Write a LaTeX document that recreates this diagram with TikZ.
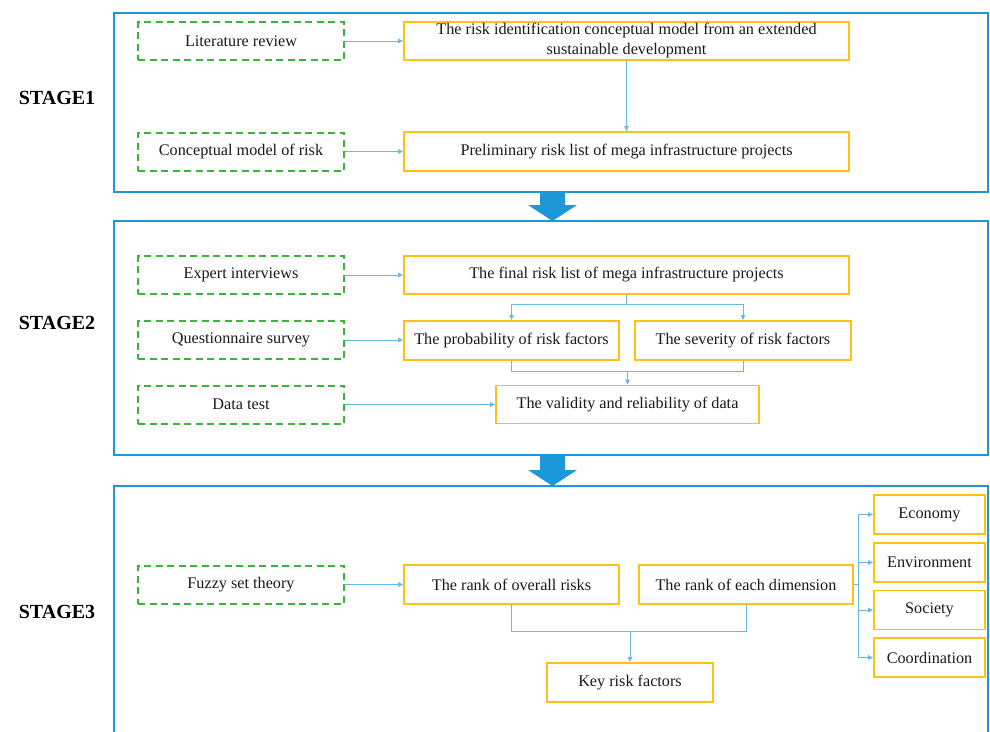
\documentclass[tikz,border=0pt]{standalone}
\usepackage{fontspec}
\setmainfont{Liberation Serif}
\usetikzlibrary{arrows.meta}
\definecolor{frameblue}{RGB}{28,152,216}
\definecolor{boxorange}{RGB}{255,194,20}
\definecolor{dashgreen}{RGB}{60,180,60}
\definecolor{linkblue}{RGB}{105,185,232}
\tikzset{
  stageframe/.style={draw=frameblue, line width=2pt},
  boxtext/.style={font=\fontsize{16.2}{20}\selectfont, text=black!90},
  methodbox/.style={boxtext, draw=dashgreen, line width=2pt, dash pattern=on 7pt off 4.5pt, minimum width=206pt, minimum height=38pt, inner sep=0pt},
  resultbox/.style={boxtext, draw=boxorange, line width=1.9pt, inner sep=0pt, align=center},
  linkline/.style={draw=linkblue, line width=0.8pt},
  link/.style={linkline, -{Triangle[length=5pt,width=4.5pt]}},
  stagelabel/.style={font=\fontsize{20}{24}\selectfont\bfseries},
  bigarrow/.style={fill=frameblue, draw=none}
}
\begin{document}
\begin{tikzpicture}[x=1pt,y=-1pt]
\useasboundingbox (0,0) rectangle (990,731);

% stage frames
\draw[stageframe] (114,13) rectangle (988,192);
\draw[stageframe] (114,221) rectangle (988,455);
\draw[stageframe] (114,745) -- (114,486) -- (988,486) -- (988,745);

% big arrows
\path[bigarrow] (540,192) -- (565,192) -- (565,205) -- (577,205) -- (552.5,221) -- (528,205) -- (540,205) -- cycle;
\path[bigarrow] (540,455) -- (565,455) -- (565,470) -- (577,470) -- (552.5,486) -- (528,470) -- (540,470) -- cycle;

% stage labels
\node[stagelabel] (s1) at (57,98) {STAGE1};
\node[stagelabel] (s2) at (57,323) {STAGE2};
\node[stagelabel] (s3) at (57,612) {STAGE3};

% stage 1
\node[methodbox] (lit) at (241,41) {Literature review};
\node[methodbox] (concept) at (241,151.5) {Conceptual model of risk};
\node[resultbox, minimum width=445pt, minimum height=38pt] (riskid) at (626.5,41) {The risk identification conceptual model from an extended\\sustainable development};
\node[resultbox, minimum width=445pt, minimum height=39pt] (prelim) at (626.5,151.5) {Preliminary risk list of mega infrastructure projects};
\draw[link] (lit) -- (riskid);
\draw[link] (concept) -- (prelim);
\draw[link] (riskid.south) -- (prelim.north);

% stage 2
\node[methodbox] (expert) at (241,275) {Expert interviews};
\node[methodbox] (quest) at (241,340) {Questionnaire survey};
\node[methodbox] (datatest) at (241,404.5) {Data test};
\node[resultbox, minimum width=445pt, minimum height=38pt] (final) at (626.5,275) {The final risk list of mega infrastructure projects};
\node[resultbox, minimum width=215pt, minimum height=39pt] (prob) at (511.5,340.5) {The probability of risk factors};
\node[resultbox, minimum width=216pt, minimum height=39pt] (sev) at (743,340.5) {The severity of risk factors};
\node[resultbox, minimum width=263pt, minimum height=38pt] (valid) at (627.5,404.5) {The validity and reliability of data};
\coordinate (split1) at (626.5,304);
\coordinate (merge1) at (627.5,371);
\draw[link] (expert) -- (final);
\draw[link] (quest) -- (prob.west |- quest);
\draw[link] (datatest) -- (valid);
\draw[linkline] (final.south) -- (split1);
\draw[link] (split1) -| (prob.north);
\draw[link] (split1) -| (sev.north);
\draw[linkline] (prob.south) |- (merge1);
\draw[linkline] (sev.south) |- (merge1);
\draw[link] (merge1) -- (valid.north);

% stage 3
\node[methodbox] (fuzzy) at (241,584.5) {Fuzzy set theory};
\node[resultbox, minimum width=215pt, minimum height=39pt] (overall) at (511.5,584.5) {The rank of overall risks};
\node[resultbox, minimum width=214pt, minimum height=39pt] (eachdim) at (746,584.5) {The rank of each dimension};
\node[resultbox, minimum width=111pt, minimum height=39pt] (economy) at (929.5,514.5) {Economy};
\node[resultbox, minimum width=111pt, minimum height=39pt] (environ) at (929.5,562.5) {Environment};
\node[resultbox, minimum width=111pt, minimum height=39pt] (society) at (929.5,610) {Society};
\node[resultbox, minimum width=111pt, minimum height=39pt] (coord) at (929.5,657.5) {Coordination};
\node[resultbox, minimum width=166pt, minimum height=39pt] (keyrisk) at (630,682.5) {Key risk factors};
\coordinate (branch) at (858,584.5);
\coordinate (merge2) at (630,631);
\draw[link] (fuzzy) -- (overall);
\draw[linkline] (eachdim.east) -- (branch);
\draw[link] (branch) |- (economy.west);
\draw[link] (branch) |- (environ.west);
\draw[link] (branch) |- (society.west);
\draw[link] (branch) |- (coord.west);
\draw[linkline] (overall.south) |- (merge2);
\draw[linkline] (eachdim.south) |- (merge2);
\draw[link] (merge2) -- (keyrisk.north);
\end{tikzpicture}
\end{document}
